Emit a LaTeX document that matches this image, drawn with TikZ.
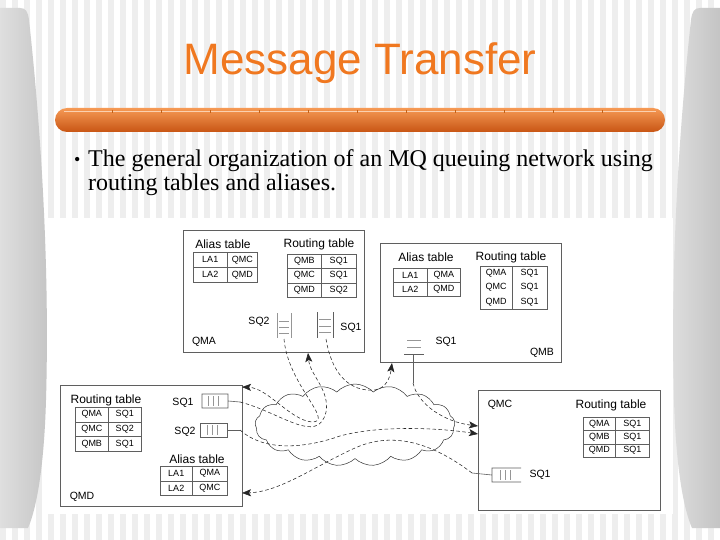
\documentclass[tikz,border=0pt]{standalone}
\usepackage{fontspec}
\setmainfont{Liberation Serif}
\newfontfamily\arialfont{Liberation Sans}
\usetikzlibrary{arrows.meta, shapes.symbols}
\definecolor{TitleOrange}{RGB}{240, 120, 32}
\definecolor{BarOrange}{RGB}{243, 120, 28}
\definecolor{BarDark}{RGB}{200, 85, 20}
\definecolor{StripeGray}{RGB}{238, 238, 238}
\definecolor{SideGray}{RGB}{196, 196, 196}
\definecolor{LineGray}{RGB}{95, 95, 95}
\definecolor{QueueGray}{RGB}{150, 150, 150}

\begin{document}
\begin{tikzpicture}[x=1pt, y=-1pt,
    qmbox/.style={draw=LineGray, line width=0.7pt, inner sep=0pt, anchor=north west},
    cell/.style={draw=LineGray, line width=0.5pt, inner sep=0pt, anchor=north west, font=\arialfont\fontsize{9}{10}\selectfont},
    bare/.style={inner sep=0pt, anchor=north west, font=\arialfont\fontsize{9}{10}\selectfont},
    head/.style={inner sep=0pt, font=\arialfont\fontsize{12}{13}\selectfont},
    lbl/.style={inner sep=0pt, font=\arialfont\fontsize{10.5}{12}\selectfont},
    body/.style={anchor=base west, inner sep=0pt, font=\fontsize{24}{28}\selectfont},
    qline/.style={draw=LineGray, line width=0.6pt},
    qbar/.style={draw=QueueGray, line width=0.8pt},
    chan/.style={draw=black!85, line width=0.55pt, dash pattern=on 3.5pt off 2.5pt,
                 -{Stealth[length=9pt, width=7pt, inset=2pt]}}]
      \useasboundingbox (0,0) rectangle (720,540);

      % Slide background
      \fill[white] (0,0) rectangle (720,540);
      \foreach \x in {0,12,...,708} {
        \fill[StripeGray] (\x,0) rectangle (\x+6,540);
      }
      \shade[left color=SideGray!55, right color=SideGray] (0,8) -- (20,8)
        .. controls (26,8) and (28,12) .. (29,20)
        .. controls (40,120) and (50,260) .. (46,400)
        .. controls (44,470) and (36,510) .. (28,528) -- (0,528) -- cycle;
      \begin{scope}[xshift=720pt, xscale=-1]
        \shade[left color=SideGray!55, right color=SideGray] (0,8) -- (20,8)
          .. controls (26,8) and (28,12) .. (29,20)
          .. controls (40,120) and (50,260) .. (46,400)
          .. controls (44,470) and (36,510) .. (28,528) -- (0,528) -- cycle;
      \end{scope}

      % Title and bar
      \node[anchor=base, text=TitleOrange, font=\arialfont\fontsize{44}{48}\selectfont] (title) at (360,75) {Message Transfer};
      \shade[rounded corners=12pt, top color=BarOrange!75!white, middle color=BarOrange, bottom color=BarDark] (55,108) rectangle (665,132);
      \draw[BarOrange!35!white, line width=1.4pt] (64,111.5) -- (656,111.5);
      \foreach \x in {112,161,...,650} {
        \draw[BarOrange!80!black, line width=0.4pt] (\x,110) -- (\x,113);
      }

      % Bullet text
      \node[body, font=\fontsize{18}{20}\selectfont] (dot) at (74,166) {\textbullet};
      \node[body] (line1) at (88,167) {The general organization of an MQ queuing network using};
      \node[body] (line2) at (88,191) {routing tables and aliases.};

      % Figure area
      \fill[white] (47,218) rectangle (673,514);

      % Queue managers
      \node[qmbox, minimum width=181pt, minimum height=122pt] (qma) at (183,230) {};
      \node[qmbox, minimum width=181pt, minimum height=119pt] (qmb) at (380,243) {};
      \node[qmbox, minimum width=182pt, minimum height=121pt] (qmd) at (60,385) {};
      \node[qmbox, minimum width=182pt, minimum height=120pt] (qmc) at (478,390) {};

      % QMA tables
      \node[head] (qmaAlias) at (223,244) {Alias table};
      \node[head] (qmaRoute) at (319,244) {Routing table};
      \foreach \a/\b [count=\i] in {LA1/QMC, LA2/QMD} {
        \node[cell, minimum width=34pt, minimum height=15pt] (qmaal\i) at (193,{252+15*(\i-1)}) {\a};
        \node[cell, minimum width=30pt, minimum height=15pt] (qmaar\i) at (227,{252+15*(\i-1)}) {\b};
      }
      \foreach \a/\b [count=\i] in {QMB/SQ1, QMC/SQ1, QMD/SQ2} {
        \node[cell, minimum width=34pt, minimum height=14.3pt] (qmarl\i) at (287,{254+14.3*(\i-1)}) {\a};
        \node[cell, minimum width=35pt, minimum height=14.3pt] (qmarr\i) at (321,{254+14.3*(\i-1)}) {\b};
      }

      % QMB tables
      \node[head] (qmbAlias) at (426,257) {Alias table};
      \node[head] (qmbRoute) at (511,257) {Routing table};
      \foreach \a/\b [count=\i] in {LA1/QMA, LA2/QMD} {
        \node[cell, minimum width=34pt, minimum height=14pt] (qmbal\i) at (393,{268+14*(\i-1)}) {\a};
        \node[cell, minimum width=33pt, minimum height=14pt] (qmbar\i) at (427,{268+14*(\i-1)}) {\b};
      }
      \foreach \a/\b [count=\i] in {QMA/SQ1, QMC/SQ1, QMD/SQ1} {
        \node[bare, minimum width=32pt, minimum height=14.3pt] (qmbrl\i) at (480,{266+14.3*(\i-1)}) {\a};
        \node[bare, minimum width=35pt, minimum height=14.3pt] (qmbrr\i) at (512,{266+14.3*(\i-1)}) {\b};
      }
      \draw[LineGray, line width=0.5pt] (qmbrl1.north west) rectangle (qmbrr3.south east);
      \draw[LineGray, line width=0.5pt] (qmbrr1.north west) -- (qmbrr3.south west);

      % QMD tables
      \node[head] (qmdRoute) at (106,400) {Routing table};
      \node[head] (qmdAlias) at (197,459) {Alias table};
      \foreach \a/\b [count=\i] in {QMA/SQ1, QMC/SQ2, QMB/SQ1} {
        \node[cell, minimum width=33pt, minimum height=14.6pt] (qmdrl\i) at (75,{407+14.6*(\i-1)}) {\a};
        \node[cell, minimum width=33pt, minimum height=14.6pt] (qmdrr\i) at (108,{407+14.6*(\i-1)}) {\b};
      }
      \foreach \a/\b [count=\i] in {LA1/QMA, LA2/QMC} {
        \node[cell, minimum width=32pt, minimum height=14.5pt] (qmdal\i) at (160,{466+14.5*(\i-1)}) {\a};
        \node[cell, minimum width=35pt, minimum height=14.5pt] (qmdar\i) at (192,{466+14.5*(\i-1)}) {\b};
      }

      % QMC table
      \node[head] (qmcRoute) at (611,405) {Routing table};
      \foreach \a/\b [count=\i] in {QMA/SQ1, QMB/SQ1, QMD/SQ1} {
        \node[cell, minimum width=32pt, minimum height=13.3pt] (qmcrl\i) at (583,{417+13.3*(\i-1)}) {\a};
        \node[cell, minimum width=34pt, minimum height=13.3pt] (qmcrr\i) at (615,{417+13.3*(\i-1)}) {\b};
      }

      % Names and queue labels
      \node[lbl] (qmaName) at (204,342) {QMA};
      \node[lbl] (qmbName) at (542,353) {QMB};
      \node[lbl] (qmcName) at (500,405) {QMC};
      \node[lbl] (qmdName) at (82,497) {QMD};
      \node[lbl] (qmaSQ2lbl) at (259,322) {SQ2};
      \node[lbl] (qmaSQ1lbl) at (351,328) {SQ1};
      \node[lbl] (qmbSQ1lbl) at (446,342) {SQ1};
      \node[lbl] (qmdSQ1lbl) at (183,403) {SQ1};
      \node[lbl] (qmdSQ2lbl) at (185,432) {SQ2};
      \node[lbl] (qmcSQ1lbl) at (540,475) {SQ1};

      % Queues
      \draw[qbar] (277,313) -- (277,338) (291,313) -- (291,338);
      \foreach \y in {321,327,333} \draw[qbar] (279,\y) -- (289,\y);
      \draw[qline] (317,312) -- (317,338) (333,312) -- (333,338);
      \foreach \y in {319,326,332} \draw[qbar] (319,\y) -- (331,\y);
      \draw[qbar] (407,340) -- (421,340) (407,347) -- (421,347);
      \draw[qline] (404,354) -- (424,354) (413,354) -- (413,383);
      \draw[qline] (202,394) rectangle (228,408) (228,401) -- (240,402);
      \foreach \x in {208,213,218} \draw[qbar] (\x,396) -- (\x,406);
      \draw[qline] (200,423) rectangle (227,437) (227,430) -- (240,430);
      \foreach \x in {207,212,217} \draw[qbar] (\x,425) -- (\x,435);
      \draw[qline] (521,468) -- (492,468) -- (492,482) -- (521,482) (492,475) -- (472,473);
      \foreach \x in {500,505,510} \draw[qbar] (\x,470) -- (\x,480);

      % Queue ends and entry points
      \coordinate (qmaSQ2) at (284,339);
      \coordinate (qmaSQ1) at (326,339);
      \coordinate (qmbSQ1) at (413,383);
      \coordinate (qmdSQ1) at (240,402);
      \coordinate (qmdSQ2) at (240,430);
      \coordinate (qmcSQ1) at (472,473);
      \coordinate (qmaIn) at (308,353);
      \coordinate (qmbIn) at (392,363);
      \coordinate (qmcIn1) at (478,426);
      \coordinate (qmcIn2) at (478,434);
      \coordinate (qmdIn1) at (242,387);
      \coordinate (qmdIn2) at (242,493);

      % Network
      \node[cloud, draw=black!80, line width=0.5pt, cloud puffs=17, cloud puff arc=95, aspect=2.3,
            minimum width=200pt, minimum height=82pt, inner sep=0pt] (net) at (355,425) {};

      % Channels
      \draw[chan] (qmaSQ1) .. controls (332,375) and (350,392) .. (375,390) .. controls (386,388) and (390,378) .. (qmbIn);
      \draw[chan] (qmaSQ2) .. controls (288,385) and (335,422) .. (312,422) .. controls (290,420) and (268,388) .. (qmdIn1);
      \draw[chan] (qmdSQ1) .. controls (280,412) and (318,446) .. (326,412) .. controls (330,390) and (310,375) .. (qmaIn);
      \draw[chan] (qmbSQ1) .. controls (418,405) and (445,422) .. (qmcIn1);
      \draw[chan] (qmdSQ2) .. controls (262,450) and (300,450) .. (340,436) .. controls (380,425) and (440,428) .. (qmcIn2);
      \draw[chan] (qmcSQ1) .. controls (435,445) and (395,430) .. (355,448) .. controls (315,466) and (280,492) .. (qmdIn2);
    \end{tikzpicture}
\end{document}
